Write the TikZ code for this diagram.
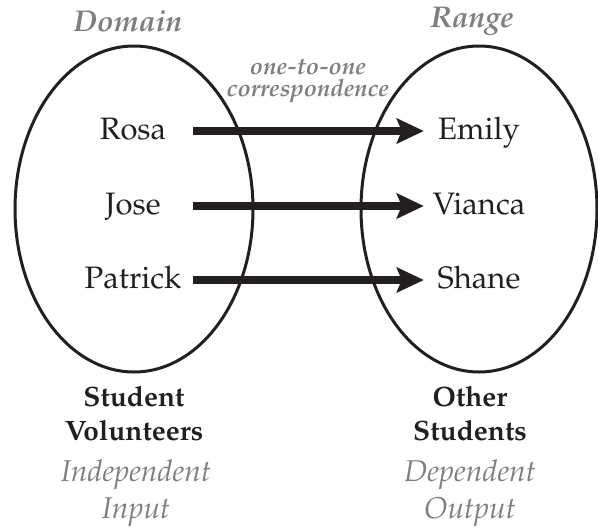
\documentclass[tikz,border=0pt]{standalone}
\usepackage[T1]{fontenc}
\usepackage{mathpazo}
\usetikzlibrary{arrows.meta}
\definecolor{ink}{HTML}{231F20}
\definecolor{soft}{HTML}{7F7F7F}
\tikzset{
  setline/.style={draw=ink, line width=3pt},
  member/.style={font=\fontsize{31}{36}\selectfont, text=ink, inner sep=0pt, text height=17pt, text depth=0pt},
  leftmember/.style={member, minimum width=120pt},
  rightmember/.style={member, minimum width=110pt},
  maparrow/.style={draw=ink, line width=7.5pt, -{Stealth[length=27pt,width=25pt,inset=5pt]}},
  heading/.style={font=\fontsize{30}{36}\selectfont\bfseries\itshape, text=soft, align=center},
  caption/.style={font=\fontsize{28}{34}\selectfont\bfseries, text=ink, align=center},
  role/.style={font=\fontsize{30}{37}\selectfont\itshape, text=soft, align=center},
  note/.style={font=\fontsize{24}{22}\selectfont\bfseries\itshape, text=soft, align=center}
}
\begin{document}
\begin{tikzpicture}[x=1pt,y=-1pt]
\useasboundingbox (0,0) rectangle (598,531);
\draw[setline] (134,209) ellipse [x radius=119, y radius=163];
\draw[setline] (479,209) ellipse [x radius=118, y radius=163];
\node[heading] (domain) at (128,21) {Domain};
\node[heading] (range) at (472,21) {Range};
\node[note] (corr) at (308,81) {one-to-one\\correspondence};
\node[leftmember] (rosa) at (133,131) {Rosa};
\node[leftmember] (jose) at (133,206) {Jose};
\node[leftmember] (patrick) at (133,280) {Patrick};
\node[rightmember] (emily) at (479,131) {Emily};
\node[rightmember] (vianca) at (479,206) {Vianca};
\node[rightmember] (shane) at (479,280) {Shane};
\draw[maparrow] (rosa.east) -- (emily.west);
\draw[maparrow] (jose.east) -- (vianca.west);
\draw[maparrow] (patrick.east) -- (shane.west);
\node[caption] (vol) at (134,414) {Student\\Volunteers};
\node[caption] (oth) at (470,414) {Other\\Students};
\node[role] (indep) at (136,493) {Independent\\Input};
\node[role] (dep) at (470,493) {Dependent\\Output};
\end{tikzpicture}
\end{document}
